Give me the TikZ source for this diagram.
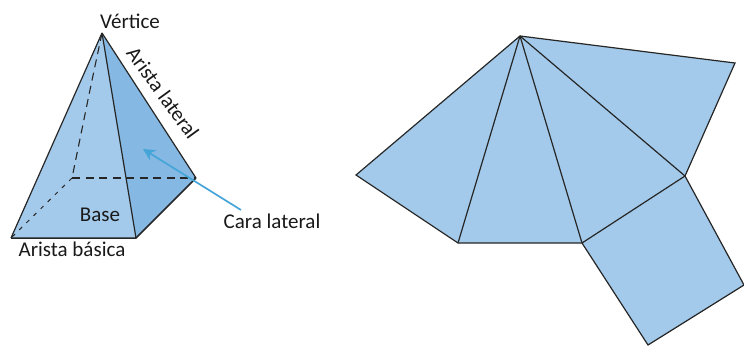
\documentclass[tikz,border=0pt]{standalone}
\usepackage{fontspec}
\setmainfont{Carlito}
\usetikzlibrary{arrows.meta}
\definecolor{faceblue}{HTML}{A3CAEB}
\definecolor{sideblue}{HTML}{85B9E3}
\definecolor{callblue}{HTML}{45A5D8}
\tikzset{
  face/.style  ={fill=faceblue, draw=none},
  side/.style  ={fill=sideblue, draw=none},
  edge/.style  ={draw=black!85, line width=1.2pt},
  hid/.style   ={edge, line width=1.1pt, dash pattern=on 8pt off 5.5pt},
  hidfine/.style={edge, line width=1pt, dash pattern=on 4pt off 6pt},
  lbl/.style   ={font=\fontsize{21}{24}\selectfont, inner sep=0pt, text=black!90},
  call/.style  ={-{Stealth[length=12pt,width=12pt]}, draw=callblue, line width=1.7pt},
}

\begin{document}
\begin{tikzpicture}[x=1pt,y=-1pt]
  \useasboundingbox (0,0) rectangle (744,346);

  % pyramid
  \coordinate (apex)  at (102,33);
  \coordinate (bl)    at (11,238);
  \coordinate (br)    at (136,238);
  \coordinate (right) at (196,178);
  \coordinate (back)  at (72,178);

  \fill[face] (apex) -- (bl) -- (br) -- cycle;
  \fill[side] (apex) -- (br) -- (right) -- cycle;

  \draw[hid] (apex) -- (91,85) -- (back);
  \draw[hid] (back) -- (right);
  \draw[hidfine] (back) -- (bl);
  \draw[edge] (apex) -- (bl);
  \draw[edge] (apex) -- (right);
  \draw[edge] (apex) -- (br);
  \draw[edge, line width=1.5pt] (bl) -- (br) -- (right);

  \node[lbl] (vertice) at (130,21) {Vértice};
  \node[lbl, rotate=-54] (aristalat) at (163,93) {Arista lateral};
  \node[lbl] (base) at (100,215) {Base};
  \node[lbl] (aristabas) at (72,249) {Arista básica};
  \node[lbl] (cara) at (272,221) {Cara lateral};

  \coordinate (calltail) at (241,210);
  \coordinate (callhead) at (143,149);
  \draw[call] (calltail) -- (callhead);

  % net
  \coordinate (top)  at (520,36);
  \coordinate (topr) at (735,63);
  \coordinate (mid)  at (685,176);
  \coordinate (nbr)  at (582,243);
  \coordinate (nbl)  at (458,243);
  \coordinate (farl) at (356,175);
  \coordinate (sqr)  at (744,285);
  \coordinate (sqb)  at (648,345);

  \fill[face] (top) -- (topr) -- (mid) -- (sqr) -- (sqb) -- (nbr) -- (nbl) -- (farl) -- cycle;
  \draw[edge] (top) -- (topr) -- (mid) -- (sqr) -- (sqb) -- (nbr) -- (nbl) -- (farl) -- cycle;
  \draw[edge] (top) -- (nbl);
  \draw[edge] (top) -- (nbr);
  \draw[edge] (top) -- (mid);
  \draw[edge] (nbr) -- (mid);
\end{tikzpicture}
\end{document}
